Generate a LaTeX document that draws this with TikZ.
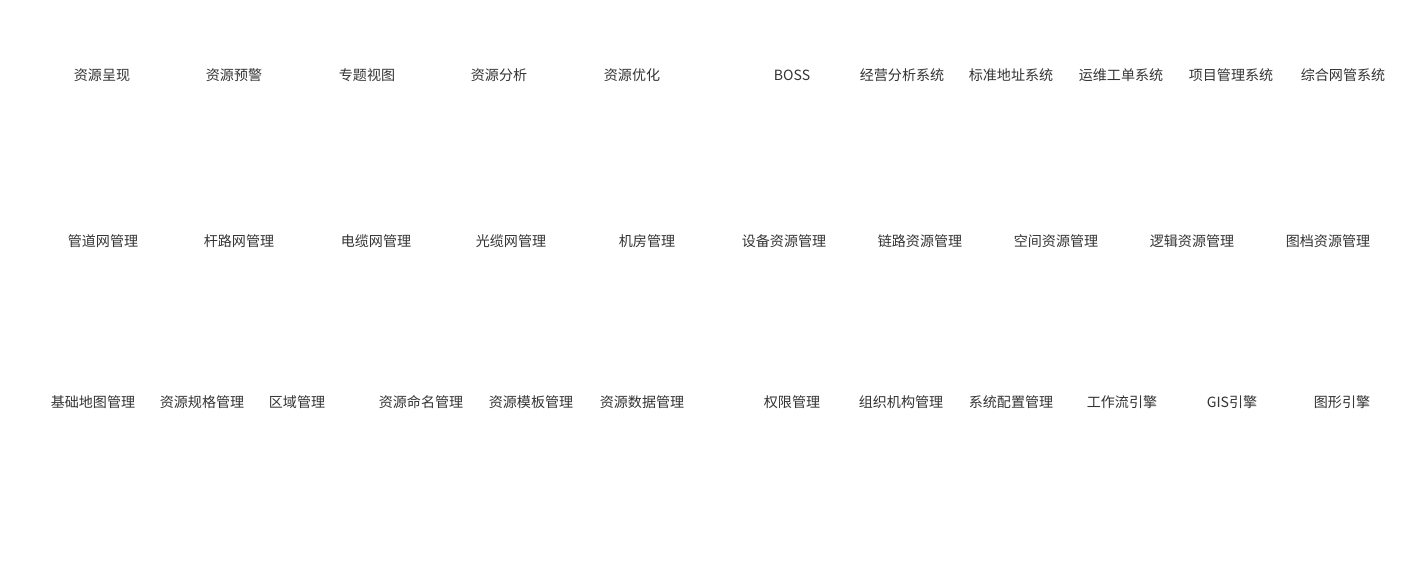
\documentclass[tikz,border=0pt]{standalone}
\usepackage{fontspec}
\newfontfamily\cjk{Noto Sans CJK SC}
\definecolor{labelgray}{HTML}{333333}
\tikzset{lbl/.style={font=\cjk\fontsize{8pt}{9pt}\selectfont, text=labelgray, inner sep=0pt}}
\begin{document}
\begin{tikzpicture}
                \useasboundingbox (-0.02,0.02) rectangle (28.38,11.76);

                \node [lbl] (chengxian) at (2.02,10.26) {资源呈现};
                \node [lbl] (yujing) at (4.66,10.26) {资源预警};
                \node [lbl] (zhuanti) at (7.32,10.26) {专题视图};
                \node [lbl] (fenxi) at (9.96,10.26) {资源分析};
                \node [lbl] (youhua) at (12.62,10.26) {资源优化};
                \node [lbl] (boss) at (15.82,10.26) {BOSS};
                \node [lbl] (jingying) at (18.02,10.26) {经营分析系统};
                \node [lbl] (dizhi) at (20.20,10.26) {标准地址系统};
                \node [lbl] (gongdan) at (22.40,10.26) {运维工单系统};
                \node [lbl] (xiangmu) at (24.60,10.26) {项目管理系统};
                \node [lbl] (wangguan) at (26.84,10.26) {综合网管系统};

                \node [lbl] (guandao) at (2.04,6.94) {管道网管理};
                \node [lbl] (ganlu) at (4.76,6.94) {杆路网管理};
                \node [lbl] (dianlan) at (7.50,6.94) {电缆网管理};
                \node [lbl] (guanglan) at (10.20,6.94) {光缆网管理};
                \node [lbl] (jifang) at (12.92,6.94) {机房管理};
                \node [lbl] (shebei) at (15.66,6.94) {设备资源管理};
                \node [lbl] (lianlu) at (18.38,6.94) {链路资源管理};
                \node [lbl] (kongjian) at (21.10,6.94) {空间资源管理};
                \node [lbl] (luoji) at (23.82,6.94) {逻辑资源管理};
                \node [lbl] (tudang) at (26.54,6.94) {图档资源管理};

                \node [lbl] (ditu) at (1.84,3.72) {基础地图管理};
                \node [lbl] (guige) at (4.02,3.72) {资源规格管理};
                \node [lbl] (quyu) at (5.92,3.72) {区域管理};
                \node [lbl] (mingming) at (8.40,3.72) {资源命名管理};
                \node [lbl] (muban) at (10.60,3.72) {资源模板管理};
                \node [lbl] (shuju) at (12.82,3.72) {资源数据管理};
                \node [lbl] (quanxian) at (15.82,3.72) {权限管理};
                \node [lbl] (zuzhi) at (18.00,3.72) {组织机构管理};
                \node [lbl] (peizhi) at (20.20,3.72) {系统配置管理};
                \node [lbl] (gongzuoliu) at (22.42,3.72) {工作流引擎};
                \node [lbl] (gis) at (24.62,3.72) {GIS引擎};
                \node [lbl] (tuxing) at (26.82,3.72) {图形引擎};
            \end{tikzpicture}
\end{document}
